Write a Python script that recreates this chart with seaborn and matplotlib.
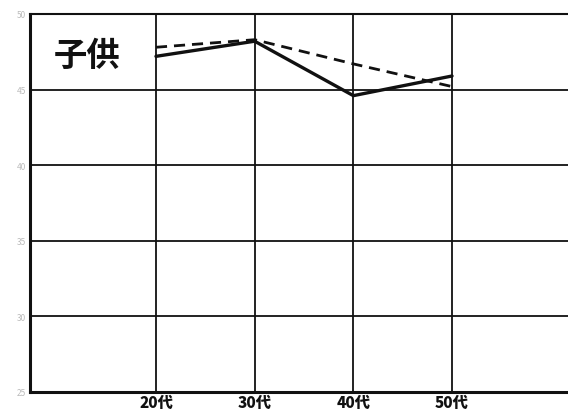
import matplotlib
matplotlib.use("Agg")
import matplotlib.pyplot as plt
import seaborn as sns
import pandas as pd

categories = ["20代", "30代", "40代", "50代"]
series_a = [47.2, 48.2, 44.6, 45.9]   # solid
series_b = [47.8, 48.3, 46.7, 45.2]   # dashed
y_ticks = [25, 30, 35, 40, 45, 50]
title_text = "子供"

sns.set_theme(style="white")
plt.rcParams['font.family'] = ['Noto Sans CJK JP', 'DejaVu Sans']

pos = list(range(len(categories)))
df = pd.DataFrame({
    "x": pos * 2,
    "value": series_a + series_b,
    "series": ["A"] * len(pos) + ["B"] * len(pos),
})

fig = plt.figure(figsize=(5.68, 4.14), dpi=100)
ax = fig.add_axes([30 / 568, 1 - 393 / 414, 1 - 30 / 568, (393 - 15) / 414])

sns.lineplot(data=df[df.series == "A"], x="x", y="value", ax=ax,
             color="#111111", lw=2.4, legend=False)
sns.lineplot(data=df[df.series == "B"], x="x", y="value", ax=ax,
             color="#111111", lw=2.0, legend=False, dashes=False,
             linestyle=(0, (4, 2.5)))

ax.set_xlim(-126 / 98.7, 3 + 116 / 98.7)
ax.set_ylim(25, 50)
ax.set_xticks(pos)
ax.set_xticklabels(categories, fontsize=11, fontweight="black", color="#111111")
ax.set_yticks(y_ticks)
ax.set_yticklabels([str(v) for v in y_ticks], fontsize=6, color="#bbbbbb")
ax.tick_params(axis="x", length=0, pad=2)
ax.tick_params(axis="y", length=0, pad=3)
ax.set_xlabel("")
ax.set_ylabel("")

ax.grid(True, color="#111111", lw=1.3)
ax.set_axisbelow(True)
for side in ["left", "bottom"]:
    ax.spines[side].set_color("#111111")
    ax.spines[side].set_linewidth(2.2)
ax.spines["top"].set_color("#111111")
ax.spines["top"].set_linewidth(1.5)
ax.spines["right"].set_visible(False)

ax.text(0.045, 0.935, title_text, transform=ax.transAxes, fontsize=24,
        fontweight="bold", color="#111111", va="top", ha="left")

fig.savefig("out.png", dpi=100)
